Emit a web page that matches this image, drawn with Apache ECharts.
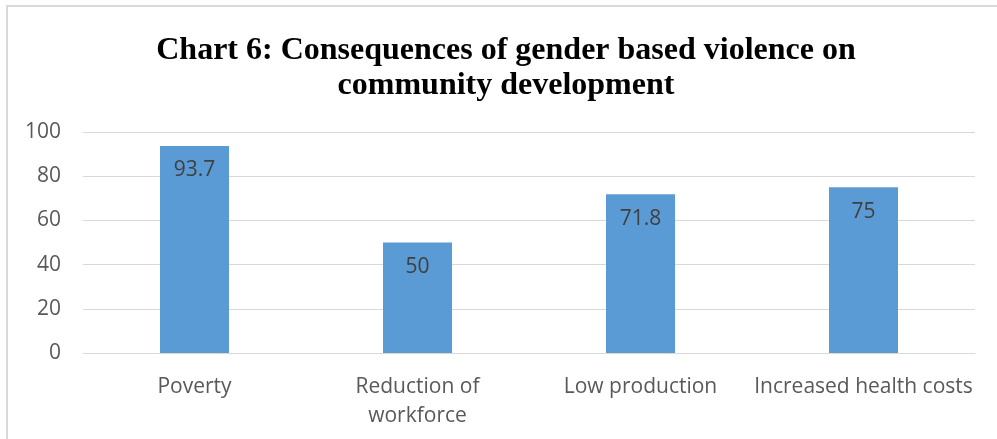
<!DOCTYPE html>
<html>
<head>
<meta charset="utf-8">
<script src="https://cdn.jsdelivr.net/npm/echarts@6/dist/echarts.min.js"></script>
<style>
  html, body { margin: 0; padding: 0; background: #fff; }
  #chart { width: 997px; height: 439px; }
</style>
</head>
<body>
<div id="chart"></div>
<script>
const categories = ['Poverty', 'Reduction of\nworkforce', 'Low production', 'Increased health costs'];
const values = [93.7, 50, 71.8, 75];
const titleText = 'Chart 6: Consequences of gender based violence on\ncommunity development';

const myChart = echarts.init(document.getElementById('chart'));

const option = {
  animation: false,
  backgroundColor: '#fff',
  title: {
    text: titleText,
    left: 501,
    top: 28,
    textAlign: 'center',
    textStyle: {
      fontFamily: 'Liberation Serif',
      fontWeight: 'bold',
      fontSize: 32,
      lineHeight: 35,
      color: '#000',
    },
  },
  graphic: [
    {
      type: 'rect',
      shape: { x: 7, y: 6, width: 1000, height: 450 },
      style: { fill: 'none', stroke: '#d9d9d9', lineWidth: 2 },
      silent: true,
    },
  ],
  grid: {
    left: 83,
    right: 22,
    top: 132,
    bottom: 86,
    containLabel: false,
  },
  xAxis: {
    type: 'category',
    data: categories,
    axisLine: { show: true, lineStyle: { color: '#d9d9d9', width: 1 } },
    axisTick: { show: false },
    axisLabel: {
      margin: 20,
      interval: 0,
      color: '#595959',
      fontFamily: 'Open Sans',
      fontSize: 21,
      lineHeight: 29,
    },
  },
  yAxis: {
    type: 'value',
    min: 0,
    max: 100,
    interval: 20,
    axisLine: { show: false },
    axisTick: { show: false },
    axisLabel: {
      margin: 22,
      color: '#595959',
      fontFamily: 'Open Sans',
      fontSize: 21,
    },
    splitLine: { show: true, lineStyle: { color: '#d9d9d9', width: 1 } },
  },
  series: [
    {
      type: 'bar',
      data: values,
      barWidth: 69,
      itemStyle: { color: '#5b9bd5' },
      label: {
        show: true,
        position: 'insideTop',
        distance: 14,
        color: '#404040',
        fontFamily: 'Open Sans',
        fontSize: 21,
      },
    },
  ],
};

myChart.setOption(option);
</script>
</body>
</html>
